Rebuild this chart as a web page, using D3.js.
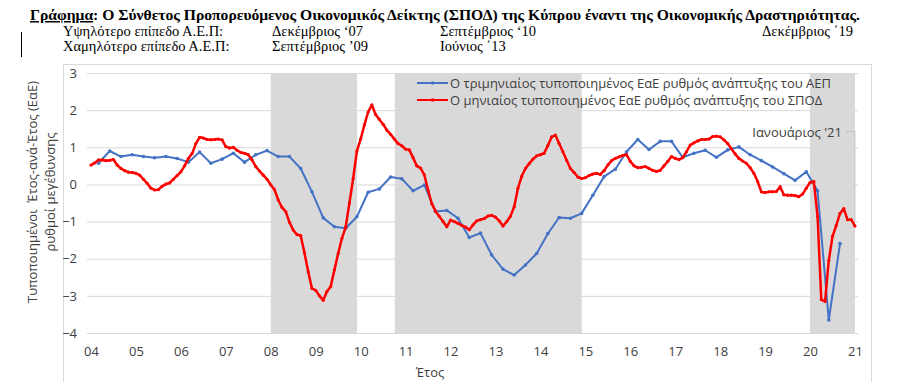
<!DOCTYPE html>
<html>
<head>
<meta charset="utf-8">
<script src="https://cdn.jsdelivr.net/npm/d3@7"></script>
<style>
  body { margin: 0; background: #fff; }
  svg { display: block; }
</style>
</head>
<body>
<svg id="chart"></svg>
<script>
const W = 900, H = 382;

// quarterly GDP yoy (standardised), end-of-quarter months, Mar 2004 .. Sep 2020
const gdpValues = [
  0.57, 0.90, 0.75, 0.80,
  0.75, 0.72, 0.75, 0.70,
  0.60, 0.87, 0.57, 0.68,
  0.84, 0.60, 0.80, 0.91,
  0.75, 0.75, 0.43, -0.20,
  -0.90, -1.14, -1.18, -0.87,
  -0.21, -0.12, 0.20, 0.15,
  -0.17, -0.02, -0.73, -0.70,
  -0.91, -1.43, -1.31, -1.90,
  -2.28, -2.44, -2.17, -1.86,
  -1.32, -0.89, -0.91, -0.78,
  -0.29, 0.21, 0.41, 0.88,
  1.21, 0.94, 1.16, 1.16,
  0.73, 0.84, 0.92, 0.73,
  0.93, 1.01, 0.80, 0.64,
  0.47, 0.29, 0.11, 0.34,
  -0.17, -3.65, -1.59
];

// monthly composite leading indicator yoy (standardised), Jan 2004 .. Jan 2021
const ccliValues = [
  0.52, 0.58, 0.66, 0.66, 0.64, 0.65, 0.67, 0.52, 0.43, 0.37, 0.33, 0.32,
  0.30, 0.25, 0.14, 0.03, -0.10, -0.15, -0.14, -0.05, 0.01, 0.04, 0.14, 0.24,
  0.34, 0.50, 0.70, 0.83, 1.10, 1.27, 1.25, 1.21, 1.20, 1.21, 1.22, 1.20,
  1.02, 0.98, 1.00, 0.92, 0.86, 0.84, 0.80, 0.66, 0.48, 0.36, 0.25, 0.14,
  -0.01, -0.14, -0.42, -0.62, -0.73, -1.02, -1.23, -1.35, -1.38, -1.84, -2.35, -2.80,
  -2.85, -3.00, -3.12, -2.88, -2.75, -2.30, -1.86, -1.45, -1.15, -0.50, 0.16, 0.90,
  1.22, 1.60, 1.95, 2.14, 1.88, 1.75, 1.62, 1.46, 1.35, 1.22, 1.10, 1.04,
  0.95, 0.93, 0.72, 0.50, 0.44, 0.26, -0.15, -0.52, -0.72, -0.86, -1.00, -1.14,
  -0.96, -1.00, -1.05, -1.10, -1.15, -1.22, -1.09, -0.98, -0.95, -0.92, -0.85, -0.83,
  -0.88, -0.98, -1.12, -1.00, -0.86, -0.60, -0.10, 0.22, 0.43, 0.56, 0.68, 0.77,
  0.80, 0.84, 1.05, 1.28, 1.33, 1.10, 0.88, 0.65, 0.43, 0.32, 0.20, 0.16,
  0.18, 0.24, 0.28, 0.30, 0.27, 0.37, 0.52, 0.64, 0.70, 0.74, 0.78, 0.80,
  0.62, 0.50, 0.45, 0.46, 0.48, 0.43, 0.38, 0.35, 0.38, 0.50, 0.62, 0.75,
  0.70, 0.67, 0.72, 0.88, 1.06, 1.12, 1.17, 1.21, 1.21, 1.22, 1.29, 1.30,
  1.28, 1.20, 1.10, 0.96, 0.82, 0.70, 0.63, 0.57, 0.45, 0.30, 0.08, -0.20,
  -0.22, -0.20, -0.20, -0.19, -0.06, -0.28, -0.29, -0.29, -0.30, -0.33, -0.26, -0.10,
  0.05, 0.08, -0.85, -3.10, -3.15, -2.05, -1.40, -1.10, -0.78, -0.65, -0.95, -0.95,
  -1.12
];

// shaded periods in decimal years
const recessions = [[2008.0, 2009.92], [2010.76, 2014.92], [2020.0, 2021.0]];

const yTicks = [3, 2, 1, 0, -1, -2, -3, -4];
const xYears = d3.range(2004, 2022);
const xTickLabels = ['04','05','06','07','08','09','10','11','12','13','14','15','16','17','18','19','20','21'];

const seriesNames = [
  'Ο τριμηνιαίος τυποποιημένος ΕαΕ ρυθμός ανάπτυξης του ΑΕΠ',
  'Ο μηνιαίος τυποποιημένος ΕαΕ ρυθμός ανάπτυξης του ΣΠΟΔ'
];
const seriesColors = ['#4472C4', '#FF0000'];

const headerRows = [
  ['Υψηλότερο επίπεδο Α.Ε.Π:', 'Δεκέμβριος ‘07', 'Σεπτέμβριος ‘10', 'Δεκέμβριος ΄19'],
  ['Χαμηλότερο επίπεδο Α.Ε.Π:', 'Σεπτέμβριος ’09', 'Ιούνιος ΄13', '']
];
const headerCols = [63, 272, 440, 762];

const sans = 'Open Sans, Noto Sans, sans-serif';
const serif = 'Liberation Serif, DejaVu Serif, serif';

const svg = d3.select('#chart').attr('width', W).attr('height', H);

// title
const title = svg.append('text')
    .attr('x', 30).attr('y', 20)
    .attr('font-family', serif)
    .attr('font-size', 15)
    .attr('font-weight', 'bold')
    .attr('textLength', 830)
    .attr('lengthAdjust', 'spacingAndGlyphs');
title.append('tspan').attr('text-decoration', 'underline').text('Γράφημα');
title.append('tspan').text(': Ο Σύνθετος Προπορευόμενος Οικονομικός Δείκτης (ΣΠΟΔ) της Κύπρου έναντι της Οικονομικής  Δραστηριότητας.');

// header rows
headerRows.forEach((row, r) => {
    row.forEach((txt, c) => {
        svg.append('text')
            .attr('x', headerCols[c])
            .attr('y', 36 + r * 15)
            .attr('font-family', serif)
            .attr('font-size', 14.5)
            .attr('fill', '#000')
            .text(txt);
    });
});

// stray text cursor mark
svg.append('line')
    .attr('x1', 21.5).attr('x2', 21.5).attr('y1', 32).attr('y2', 57)
    .attr('stroke', '#000').attr('stroke-width', 1);

// chart frame
svg.append('rect')
    .attr('x', 63.5).attr('y', 64.5)
    .attr('width', 808).attr('height', 330)
    .attr('fill', 'none')
    .attr('stroke', '#d9d9d9');

const x = d3.scaleLinear().domain([2004, 2021]).range([91, 855]);
const y = d3.scaleLinear().domain([-4, 3]).range([333, 73]);

// recession shading
svg.append('g').selectAll('rect')
    .data(recessions)
    .join('rect')
    .attr('x', d => x(d[0]))
    .attr('width', d => x(d[1]) - x(d[0]))
    .attr('y', y(3))
    .attr('height', y(-4) - y(3))
    .attr('fill', '#d9d9d9');

// gridlines
const gridLeft = 87, gridRight = 858;
svg.append('g')
    .attr('transform', `translate(${gridLeft},0)`)
    .call(d3.axisLeft(y).tickValues(yTicks).tickSize(-(gridRight - gridLeft)).tickFormat(''))
    .call(g => g.select('.domain').remove())
    .call(g => g.selectAll('line').attr('stroke', '#d9d9d9').attr('stroke-width', 1));

// y tick labels
svg.append('g')
    .attr('transform', `translate(${gridLeft},0)`)
    .call(d3.axisLeft(y).tickValues(yTicks).tickSize(0).tickPadding(10).tickFormat(d3.format('d')))
    .call(g => g.select('.domain').remove())
    .call(g => g.selectAll('text')
        .attr('font-family', sans).attr('font-size', 13).attr('fill', '#404040'));

// x tick labels
svg.append('g')
    .attr('transform', `translate(0,${y(-4)})`)
    .call(d3.axisBottom(x).tickValues(xYears).tickSize(0).tickPadding(14)
        .tickFormat((d, i) => xTickLabels[i]))
    .call(g => g.select('.domain').remove())
    .call(g => g.selectAll('text')
        .attr('font-family', sans).attr('font-size', 13).attr('fill', '#404040'));

// axis titles
svg.append('text')
    .attr('x', 430).attr('y', 377)
    .attr('text-anchor', 'middle')
    .attr('font-family', sans).attr('font-size', 13).attr('fill', '#404040')
    .text('Έτος');

const yTitle = ['Τυποποιημένοι  Έτος-ανά-Έτος (ΕαΕ)', 'ρυθμοί μεγέθυνσης'];
yTitle.forEach((t, i) => {
    svg.append('text')
        .attr('transform', `translate(${37 + i * 18},192) rotate(-90)`)
        .attr('text-anchor', 'middle')
        .attr('font-family', sans).attr('font-size', 13).attr('fill', '#404040')
        .style('white-space', 'pre')
        .text(t);
});

// series data
const gdpData = gdpValues.map((v, i) => ({ t: 2004 + (i * 3 + 2) / 12, v }));
const ccliData = ccliValues.map((v, i) => ({ t: 2004 + i / 12, v }));

const line = d3.line().x(d => x(d.t)).y(d => y(d.v));

function drawSeries(data, color, width, r) {
    svg.append('path')
        .datum(data)
        .attr('d', line)
        .attr('fill', 'none')
        .attr('stroke', color)
        .attr('stroke-width', width)
        .attr('stroke-linejoin', 'round');
    svg.append('g').selectAll('circle')
        .data(data)
        .join('circle')
        .attr('cx', d => x(d.t))
        .attr('cy', d => y(d.v))
        .attr('r', r)
        .attr('fill', color);
}

drawSeries(gdpData, seriesColors[0], 2, 1.8);
drawSeries(ccliData, seriesColors[1], 2.5, 1.6);

// annotation on last monthly point
const last = ccliData[ccliData.length - 1];
const annY = 131.5;
svg.append('text')
    .attr('x', 842).attr('y', annY + 5)
    .attr('text-anchor', 'end')
    .attr('font-family', sans).attr('font-size', 13).attr('fill', '#404040')
    .text("Ιανουάριος '21");
svg.append('path')
    .attr('d', `M${x(last.t) - 8},${annY}H${x(last.t)}V${y(last.v) - 4}`)
    .attr('fill', 'none')
    .attr('stroke', '#a6a6a6')
    .attr('stroke-width', 1)
    .attr('stroke-dasharray', '1,1');

// legend
const legend = svg.append('g');
seriesNames.forEach((name, i) => {
    const ly = 83 + i * 17;
    legend.append('line')
        .attr('x1', 417).attr('x2', 448).attr('y1', ly).attr('y2', ly)
        .attr('stroke', seriesColors[i]).attr('stroke-width', 2);
    legend.append('circle')
        .attr('cx', 432.5).attr('cy', ly).attr('r', 1.8)
        .attr('fill', seriesColors[i]);
    legend.append('text')
        .attr('x', 450).attr('y', ly + 4.5)
        .attr('font-family', sans).attr('font-size', 13).attr('fill', '#404040')
        .text(name);
});
</script>
</body>
</html>
